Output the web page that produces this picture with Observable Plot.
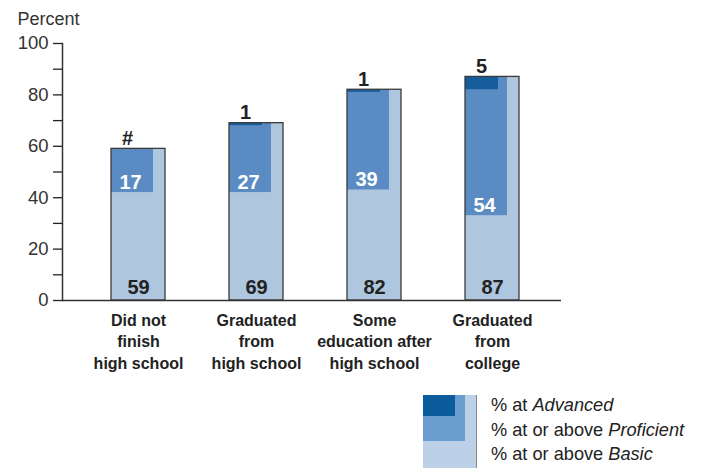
<!DOCTYPE html>
<html>
<head>
<meta charset="utf-8">
<script src="https://cdn.jsdelivr.net/npm/d3@7"></script>
<script src="https://cdn.jsdelivr.net/npm/@observablehq/plot@0.6"></script>
<style>
  html, body { margin: 0; padding: 0; background: #fff; }
  body { width: 704px; height: 468px; overflow: hidden; font-family: "Liberation Sans", Arial, sans-serif; }
  #legend { display: flex; margin-left: 423px; margin-top: 10px; }
  #patch { position: relative; width: 53px; height: 80px; background: #bcd1e7; border-right: 1px solid #8a8a8a; }
  #patch .pro { position: absolute; left: 0; top: 0; width: 42px; height: 46px; background: #6a9ccf; }
  #patch .adv { position: absolute; left: 0; top: 0; width: 32px; height: 21px; background: #0b5c9b; }
  #legtext { margin-left: 14px; font-size: 18.2px; line-height: 24.5px; color: #222; margin-top: -2px; }
</style>
</head>
<body>
<div id="chart"></div>
<div id="legend">
  <div id="patch"><div class="pro"></div><div class="adv"></div></div>
  <div id="legtext">
    <div>% at <i>Advanced</i></div>
    <div>% at or above <i>Proficient</i></div>
    <div>% at or above <i>Basic</i></div>
  </div>
</div>
<script>
const categories = ["Did not\nfinish\nhigh school", "Graduated\nfrom\nhigh school", "Some\neducation after\nhigh school", "Graduated\nfrom\ncollege"];
const basic = [59, 69, 82, 87];
const proficient = [17, 27, 39, 54];
const advanced = [0, 1, 1, 5];
const advancedLabels = ["#", "1", "1", "5"];
const yTicks = [0, 10, 20, 30, 40, 50, 60, 70, 80, 90, 100];

const rows = categories.map((c, i) => ({
  cat: c, basic: basic[i], proficient: proficient[i], advanced: advanced[i], advLabel: advancedLabels[i]
}));

const chart = Plot.plot({
  width: 704,
  height: 385,
  marginLeft: 62,
  marginRight: 143,
  marginTop: 43,
  marginBottom: 85,
  style: { fontFamily: "'Liberation Sans', Arial, sans-serif", color: "#222", background: "#fff" },
  x: { domain: categories, paddingInner: 0.543, paddingOuter: 0.384, align: 0.537 },
  y: { domain: [0, 100] },
  marks: [
    Plot.barY(rows, { x: "cat", y: "basic", fill: "#afc6df" }),
    Plot.barY(rows, { x: "cat", y1: d => d.basic - d.proficient, y2: "basic", fill: "#5a8cc3", insetRight: 12 }),
    Plot.barY(rows.filter(d => d.advanced > 0), { x: "cat", y1: d => d.basic - d.advanced, y2: "basic", fill: "#165d9c", insetRight: 21 }),
    Plot.barY(rows, { x: "cat", y: "basic", fill: "none", stroke: "#3a3a3a", strokeWidth: 1.3 }),
    Plot.ruleY([0], { stroke: "#333", strokeWidth: 1.5 }),
    Plot.frame({ anchor: "left", stroke: "#333", strokeWidth: 1.5 }),
    Plot.axisY({ ticks: yTicks, tickSize: 9, tickPadding: 5, tickFormat: d => d % 20 === 0 ? d : "", fontSize: 18.5, fill: "#333", label: null, strokeWidth: 1.3 }),
    Plot.axisX({ tickSize: 0, tickPadding: 10, fontSize: 16, fontWeight: "bold", lineHeight: 1.34, label: null, fill: "#222" }),
    Plot.text(["Percent"], { frameAnchor: "top-left", dx: -45, dy: -19, lineAnchor: "bottom", textAnchor: "start", fontSize: 18, fill: "#333" }),
    Plot.text(rows, { x: "cat", y: 0, text: d => String(d.basic), dy: -7, lineAnchor: "bottom", fontSize: 20, fontWeight: "bold", fill: "#222" }),
    Plot.text(rows, { x: "cat", y: d => d.basic - d.proficient, text: d => String(d.proficient), dx: -8, dy: -4, lineAnchor: "bottom", fontSize: 20, fontWeight: "bold", fill: "#fff" }),
    Plot.text(rows, { x: "cat", y: "basic", text: "advLabel", dx: -11, dy: -4, lineAnchor: "bottom", fontSize: 20, fontWeight: "bold", fill: "#222" })
  ]
});
document.getElementById("chart").appendChild(chart);
</script>
</body>
</html>
